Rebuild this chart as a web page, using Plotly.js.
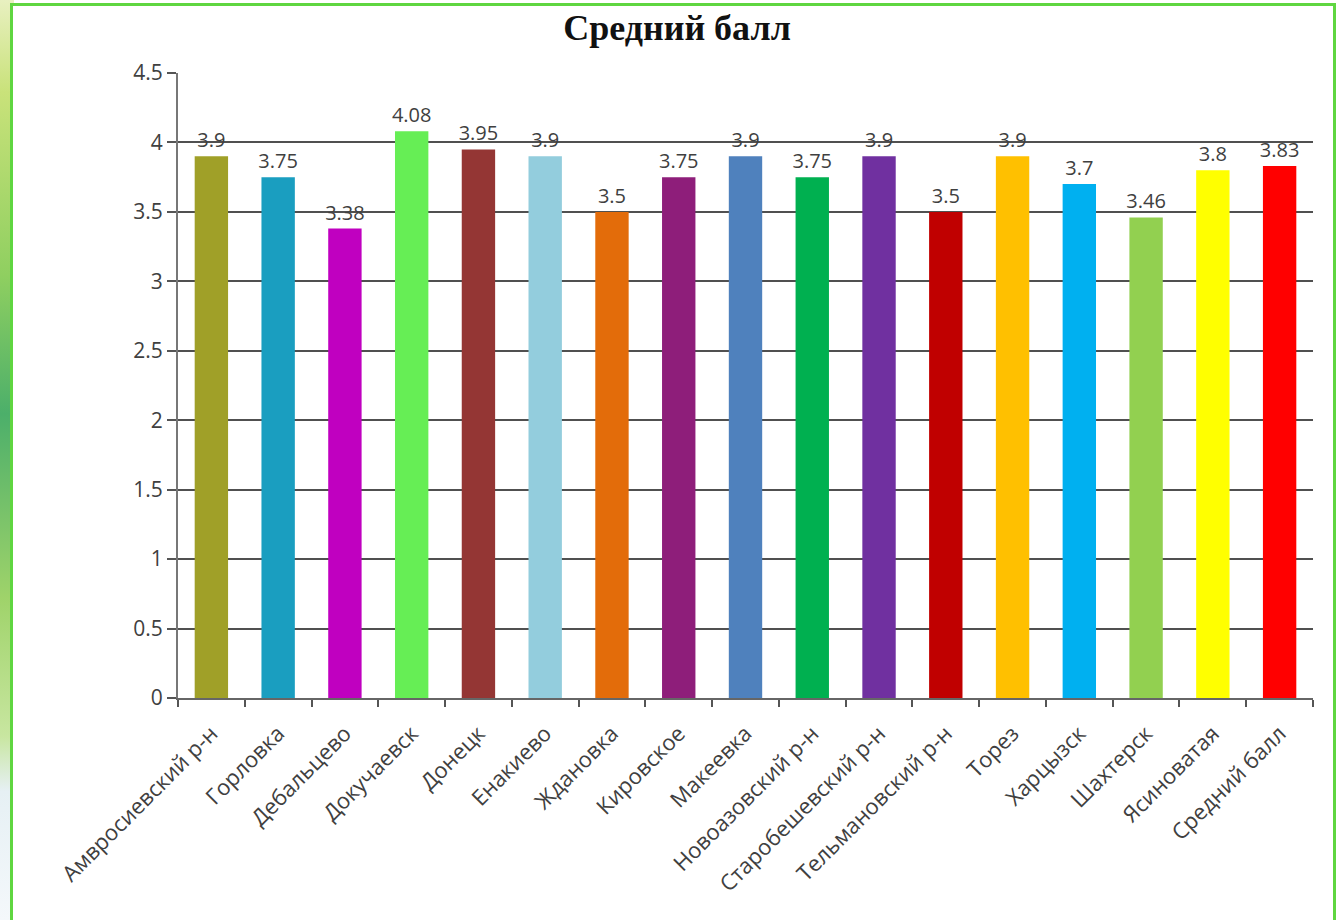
<!DOCTYPE html>
<html>
<head>
<meta charset="utf-8">
<script src="https://cdn.plot.ly/plotly-3.0.1.min.js"></script>
<style>
  html, body { margin: 0; padding: 0; width: 1342px; height: 920px; overflow: hidden; background: #ffffff; }
  #strip { position: absolute; left: 0; top: 0; width: 14px; height: 920px;
    background: linear-gradient(to bottom, #e8f0c0 0%, #c9e27a 10%, #8fcf60 30%, #4caf6a 45%, #9fd36a 65%, #c8e6a0 80%, #e6f0f4 86%, #f4f8fb 100%); }
  #frame { position: absolute; left: 10px; top: 3px; width: 1326px; height: 920px;
    border: 3px solid #5fd640; border-bottom: none; box-sizing: border-box; background: #ffffff; }
  #chart { position: absolute; left: 0; top: 0; width: 1342px; height: 920px; }
</style>
</head>
<body>
<div id="strip"></div>
<div id="frame"></div>
<div id="chart"></div>
<script>
const categories = ["Амвросиевский р-н", "Горловка", "Дебальцево", "Докучаевск", "Донецк", "Енакиево", "Ждановка", "Кировское", "Макеевка", "Новоазовский р-н", "Старобешевский р-н", "Тельмановский р-н", "Торез", "Харцызск", "Шахтерск", "Ясиноватая", "Средний балл"];
const values = [3.9, 3.75, 3.38, 4.08, 3.95, 3.9, 3.5, 3.75, 3.9, 3.75, 3.9, 3.5, 3.9, 3.7, 3.46, 3.8, 3.83];
const barColors = ["#a0a028", "#1a9ec0", "#c000c0", "#66ee55", "#943634", "#93cddd", "#e36c0a", "#8e1e7a", "#4f81bd", "#00b050", "#7030a0", "#c00000", "#ffc000", "#00b0f0", "#92d050", "#ffff00", "#ff0000"];
const yTicks = [0, 0.5, 1, 1.5, 2, 2.5, 3, 3.5, 4, 4.5];

const trace = {
  type: "bar",
  x: categories,
  y: values,
  marker: { color: barColors },
  text: values.map(v => String(v)),
  textposition: "outside",
  constraintext: "none",
  textfont: { family: "Open Sans, sans-serif", size: 20, color: "#404040" },
  cliponaxis: false,
  hoverinfo: "x+y"
};

const layout = {
  width: 1342,
  height: 920,
  paper_bgcolor: "rgba(0,0,0,0)",
  plot_bgcolor: "rgba(0,0,0,0)",
  margin: { l: 178, r: 29, t: 73, b: 222 },
  bargap: 0.5,
  showlegend: false,
  title: {
    text: "<b>Средний балл</b>",
    font: { family: "Liberation Serif, serif", size: 36, color: "#111111" },
    x: 677 / 1342, xref: "container", xanchor: "center",
    y: 1 - 27 / 920, yref: "container", yanchor: "middle"
  },
  xaxis: {
    type: "category",
    tickangle: -45,
    tickson: "boundaries",
    ticks: "outside",
    ticklen: 7,
    tickcolor: "#555555",
    tickwidth: 2,
    ticklabelstandoff: 12,
    showline: true,
    linecolor: "#666666",
    linewidth: 2,
    showgrid: false,
    automargin: false,
    tickfont: { family: "Open Sans, sans-serif", size: 22, color: "#404040" }
  },
  yaxis: {
    range: [0, 4.5],
    tickvals: yTicks,
    ticktext: yTicks.map(v => String(v)),
    ticks: "outside",
    ticklen: 9,
    tickcolor: "#555555",
    tickwidth: 2,
    showline: true,
    linecolor: "#777777",
    linewidth: 2,
    showgrid: true,
    gridcolor: "#505050",
    gridwidth: 2,
    zeroline: false,
    automargin: false,
    tickfont: { family: "Open Sans, sans-serif", size: 21, color: "#404040" }
  }
};

Plotly.newPlot("chart", [trace], layout, { displayModeBar: false, staticPlot: true });
</script>
</body>
</html>
